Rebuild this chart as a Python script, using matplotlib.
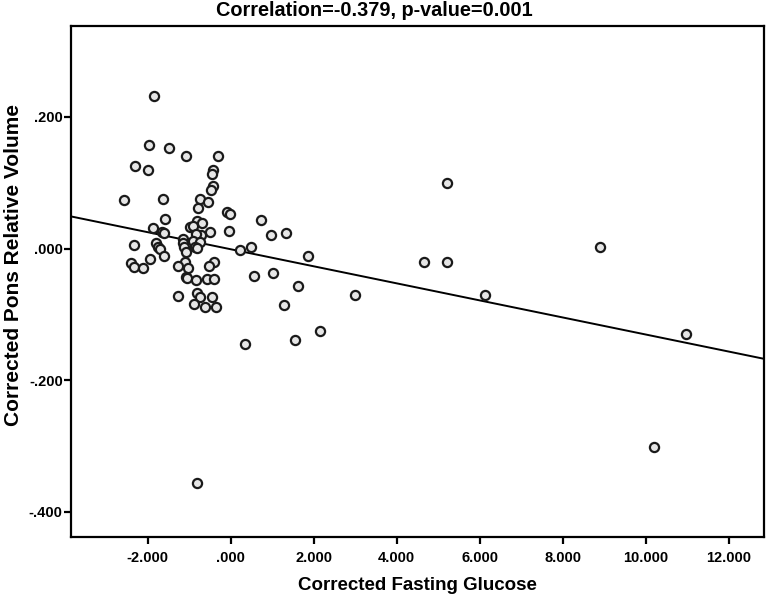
import numpy as np
import matplotlib
matplotlib.use("Agg")
import matplotlib.pyplot as plt
from matplotlib.ticker import FuncFormatter

# Data
glucose = [
    -1.853, -1.973, -1.477, -1.075, -0.304, -2.296, -1.983, -0.417, -0.448, -0.417,
    -0.480, -2.561, -1.629, -0.730, -0.545, -0.778, -0.087, -0.014, -1.581, -0.810,
    -0.701, -0.978, -0.906, -1.882, -0.027, -0.489, -1.660, -1.617, -0.720, -0.834,
    -1.140, -1.154, -1.123, -1.082, -0.899, -0.737, -0.858, -0.817, -2.328, -1.798,
    -1.742, -1.701, 0.227, 0.492, 0.733, 0.966, 1.335, 1.853, -1.605, -1.942,
    -2.400, -2.328, -2.104, -1.099, -1.260, -1.019, -0.393, -0.520, -1.075, -1.043,
    -0.834, -0.576, -0.393, 0.571, 1.029, 1.612, -1.267, -0.802, -0.737, -0.441,
    -0.882, -0.617, -0.352, 1.287, 2.998, 2.161, 1.552, 5.207, 4.667, 5.207,
    6.130, 8.908, 10.966, 10.210, -0.817, 0.347,
]
pons = [
    0.231, 0.157, 0.153, 0.141, 0.140, 0.126, 0.119, 0.120, 0.114, 0.095,
    0.089, 0.074, 0.076, 0.075, 0.070, 0.062, 0.056, 0.052, 0.045, 0.042,
    0.039, 0.033, 0.034, 0.032, 0.027, 0.025, 0.025, 0.023, 0.021, 0.022,
    0.014, 0.008, 0.003, -0.005, 0.012, 0.010, 0.003, 0.001, 0.005, 0.008,
    0.003, -0.001, -0.002, 0.002, 0.044, 0.021, 0.023, -0.011, -0.012, -0.016,
    -0.022, -0.028, -0.030, -0.020, -0.027, -0.030, -0.021, -0.027, -0.043, -0.045,
    -0.047, -0.046, -0.046, -0.041, -0.037, -0.057, -0.072, -0.068, -0.074, -0.074,
    -0.084, -0.088, -0.089, -0.085, -0.070, -0.125, -0.139, 0.099, -0.020, -0.020,
    -0.071, 0.002, -0.129, -0.302, -0.356, -0.145,
]

x_ticks = [-2, 0, 2, 4, 6, 8, 10, 12]
y_ticks = [0.2, 0.0, -0.2, -0.4]

plt.rcParams['font.family'] = ['Liberation Sans', 'DejaVu Sans']

fig = plt.figure(figsize=(7.66, 5.96), dpi=100)
ax = fig.add_axes([71 / 766, 59 / 596, 693 / 766, 511 / 596])

x = np.array(glucose)
y = np.array(pons)
slope, icpt = np.polyfit(x, y, 1)

xlim = (-3.846, 12.853)
ylim = (-0.438, 0.338)
xl = np.array(xlim)
ax.plot(xl, icpt + slope * xl, color='black', lw=1.4, zorder=2)

ax.plot(x, y, 'o', ms=6.6, mfc='#e6e6e6', mec='#1a1a1a', mew=1.6, zorder=3)

ax.set_xlim(xlim)
ax.set_ylim(ylim)
ax.set_xticks(x_ticks)
ax.set_yticks(y_ticks)


def spss_fmt(v, pos=None):
    s = f"{v:.3f}"
    if s.startswith("-0"):
        s = "-" + s[2:]
    elif s.startswith("0"):
        s = s[1:]
    if s == "-.000":
        s = ".000"
    return s


ax.xaxis.set_major_formatter(FuncFormatter(spss_fmt))
ax.yaxis.set_major_formatter(FuncFormatter(spss_fmt))
ax.tick_params(direction='out', length=5, width=1.6, labelsize=10.5, pad=5)
ax.tick_params(axis='y', pad=1)
for lab in ax.get_xticklabels() + ax.get_yticklabels():
    lab.set_fontweight('bold')
for sp in ax.spines.values():
    sp.set_linewidth(1.6)

fig.text(374 / 766, 1 - 10 / 596, "Correlation=-0.379, p-value=0.001",
         ha='center', va='center', fontsize=14.3, fontweight='bold')
fig.text(417 / 766, 1 - 585 / 596, "Corrected Fasting Glucose",
         ha='center', va='center', fontsize=13.5, fontweight='bold')
fig.text(14 / 766, 1 - 265 / 596, "Corrected Pons Relative Volume",
         ha='center', va='center', rotation=90, fontsize=15, fontweight='bold')

fig.savefig("out.png", dpi=100)
